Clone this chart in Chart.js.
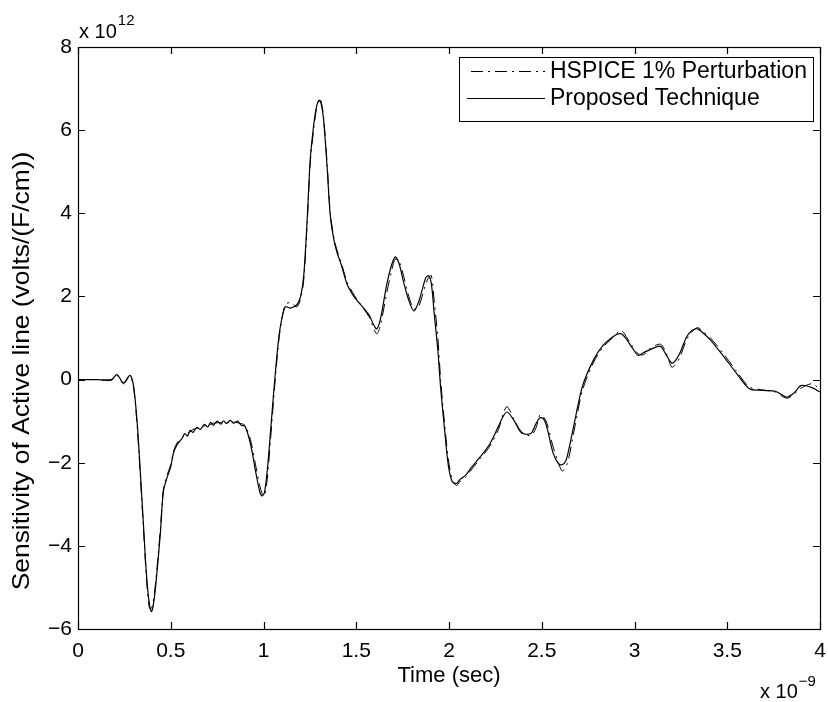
<!DOCTYPE html>
<html>
<head>
<meta charset="utf-8">
<title>Sensitivity of Active line</title>
<script src="https://cdn.jsdelivr.net/npm/chart.js@4.4.0/dist/chart.umd.min.js"></script>
<style>
  html, body { margin: 0; padding: 0; background: #fff; }
  #wrap { width: 828px; height: 702px; }
</style>
</head>
<body>
<div id="wrap"><canvas id="myChart" width="828" height="702"></canvas></div>
<script>
// time axis in units of 1e-9 s, values in units of 1e12 volts/(F/cm)
const timeNs = [
  0, 0.1, 0.18, 0.21, 0.245, 0.28, 0.3, 0.32, 0.337, 0.353,
  0.37, 0.385, 0.396, 0.405, 0.418, 0.444, 0.46, 0.48, 0.5, 0.515,
  0.535, 0.56, 0.575, 0.59, 0.605, 0.62, 0.64, 0.66, 0.68, 0.7,
  0.715, 0.73, 0.75, 0.77, 0.785, 0.8, 0.82, 0.84, 0.86, 0.88,
  0.9, 0.93, 0.957, 0.98, 0.993, 1.005, 1.02, 1.037, 1.055,
  1.075, 1.09, 1.117, 1.145, 1.18, 1.2, 1.217, 1.236, 1.252, 1.27,
  1.285, 1.3, 1.31, 1.323, 1.343, 1.36, 1.38, 1.397, 1.42, 1.45,
  1.48, 1.505, 1.54, 1.57, 1.59, 1.61, 1.63, 1.665, 1.69, 1.71,
  1.73, 1.755, 1.78, 1.81, 1.835, 1.855, 1.875, 1.89, 1.905, 1.92,
  1.94, 1.955, 1.975, 1.996, 2.017, 2.04, 2.06, 2.09, 2.115, 2.17,
  2.22, 2.267, 2.29, 2.313, 2.35, 2.39, 2.44, 2.47, 2.49, 2.51,
  2.528, 2.56, 2.59, 2.61, 2.63, 2.645, 2.68, 2.72, 2.78, 2.83,
  2.87, 2.9, 2.93, 2.96, 2.99, 3.02, 3.05, 3.084, 3.14, 3.17,
  3.2, 3.22, 3.246, 3.28, 3.31, 3.34, 3.37, 3.41, 3.48, 3.55,
  3.62, 3.69, 3.76, 3.82, 3.86, 3.9, 3.96, 4.0
];

const proposedValues = [
  0, 0, 0, 0.12, -0.08, 0.1, -0.17, -1.1, -2.3, -3.5,
  -4.75, -5.4, -5.58, -5.45, -5.0, -3.7, -2.7, -2.36, -2.1, -1.76,
  -1.56, -1.42, -1.3, -1.36, -1.22, -1.27, -1.15, -1.2, -1.08, -1.14,
  -1.03, -1.1, -1.0, -1.07, -0.99, -1.06, -0.98, -1.05, -1.0, -1.1,
  -1.12, -1.55, -2.2, -2.7, -2.8, -2.72, -2.2, -1.3, -0.3,
  0.7, 1.25, 1.75, 1.72, 1.8, 2.0, 2.5, 3.9, 5.3, 6.1,
  6.55, 6.72, 6.65, 6.3, 5.1, 3.95, 3.35, 3.05, 2.75, 2.3,
  2.05, 1.9, 1.72, 1.55, 1.35, 1.22, 1.45, 2.3, 2.75, 2.95,
  2.8, 2.35, 1.95, 1.65, 1.85, 2.15, 2.45, 2.5, 2.3, 1.6,
  0.7, -0.2, -1.15, -2.05, -2.45, -2.5, -2.4, -2.3, -2.15, -1.85,
  -1.55, -1.12, -0.9, -0.78, -0.98, -1.28, -1.3, -1.05, -0.92, -0.95,
  -1.15, -1.75, -2.02, -2.05, -1.95, -1.7, -0.95, -0.15, 0.48, 0.82,
  0.98, 1.08, 1.1, 0.95, 0.75, 0.58, 0.65, 0.72, 0.8, 0.6,
  0.4, 0.45, 0.65, 1.02, 1.18, 1.22, 1.12, 0.95, 0.56, 0.15,
  -0.22, -0.26, -0.28, -0.42, -0.32, -0.14, -0.2, -0.3
];

const hspiceValues = [
  0, 0, -0.02, 0.1, -0.1, 0.08, -0.2, -1.2, -2.4, -3.6,
  -4.85, -5.5, -5.5, -5.35, -4.9, -3.6, -2.65, -2.3, -2.05, -1.72,
  -1.52, -1.4, -1.35, -1.3, -1.25, -1.2, -1.17, -1.15, -1.12, -1.1,
  -1.08, -1.05, -1.04, -1.03, -1.03, -1.04, -1.03, -1.02, -1.04, -1.06,
  -1.1, -1.45, -2.05, -2.55, -2.75, -2.8, -2.4, -1.5, -0.45,
  0.6, 1.2, 1.8, 1.85, 1.75, 1.95, 2.4, 3.8, 5.2, 6.0,
  6.5, 6.75, 6.7, 6.35, 5.2, 4.0, 3.4, 3.1, 2.8, 2.35,
  2.1, 1.92, 1.7, 1.5, 1.28, 1.1, 1.3, 2.1, 2.6, 2.9,
  2.85, 2.5, 2.05, 1.7, 1.75, 2.0, 2.3, 2.45, 2.5, 1.9,
  1.0, 0.0, -1.0, -1.9, -2.4, -2.55, -2.45, -2.35, -2.2, -1.9,
  -1.6, -1.2, -0.85, -0.65, -0.95, -1.25, -1.35, -1.15, -0.85, -0.9,
  -1.05, -1.6, -2.0, -2.2, -2.1, -1.9, -1.1, -0.25, 0.42, 0.78,
  0.95, 1.1, 1.18, 1.0, 0.8, 0.62, 0.6, 0.75, 0.85, 0.65,
  0.3, 0.35, 0.55, 0.95, 1.15, 1.25, 1.15, 1.0, 0.62, 0.2,
  -0.18, -0.25, -0.3, -0.45, -0.35, -0.2, -0.1, -0.25
];

const seriesNames = ['HSPICE 1% Perturbation', 'Proposed Technique'];
const xTicks = [0, 0.5, 1, 1.5, 2, 2.5, 3, 3.5, 4];
const yTicks = [-6, -4, -2, 0, 2, 4, 6, 8];
const yTitle = 'Sensitivity of Active line (volts/(F/cm))';

const FONT = '"Liberation Sans", Arial, Helvetica, sans-serif';
const hspiceDash = [12, 5, 2, 5];

const toPoints = (vals) => vals.map((v, i) => ({ x: timeNs[i], y: v }));

// matlab style box, inward ticks, legend, y title and the exponent labels
const matlabFrame = {
  id: 'matlabFrame',
  afterDraw(chart) {
    const { ctx, chartArea: a, scales } = chart;
    const x = scales.x, y = scales.y;
    ctx.save();
    ctx.strokeStyle = '#000';
    ctx.lineWidth = 1.2;
    ctx.setLineDash([]);
    ctx.strokeRect(a.left + 0.5, a.top + 0.5, a.right - a.left, a.bottom - a.top);
    ctx.beginPath();
    xTicks.forEach((v) => {
      const px = Math.round(x.getPixelForValue(v)) + 0.5;
      ctx.moveTo(px, a.bottom);
      ctx.lineTo(px, a.bottom - 7);
      ctx.moveTo(px, a.top);
      ctx.lineTo(px, a.top + 7);
    });
    yTicks.forEach((v) => {
      const py = Math.round(y.getPixelForValue(v)) + 0.5;
      ctx.moveTo(a.left, py);
      ctx.lineTo(a.left + 7, py);
      ctx.moveTo(a.right, py);
      ctx.lineTo(a.right - 7, py);
    });
    ctx.stroke();

    ctx.fillStyle = '#000';

    // y axis title, rotated
    ctx.save();
    ctx.translate(22, 371);
    ctx.rotate(-Math.PI / 2);
    ctx.scale(1.1, 1);
    ctx.textAlign = 'center';
    ctx.textBaseline = 'middle';
    ctx.font = '24px ' + FONT;
    ctx.fillText(yTitle, 0, 0);
    ctx.restore();

    // exponents
    ctx.textBaseline = 'alphabetic';
    ctx.textAlign = 'left';
    ctx.font = '20px ' + FONT;
    ctx.fillText('x 10', a.left + 1, a.top - 9);
    let w = ctx.measureText('x 10').width;
    ctx.font = '15px ' + FONT;
    ctx.fillText('12', a.left + 1 + w + 1, a.top - 22);
    ctx.font = '20px ' + FONT;
    ctx.fillText('x 10', a.right - 60, 698);
    w = ctx.measureText('x 10').width;
    ctx.font = '15px ' + FONT;
    ctx.fillText('\u22129', a.right - 60 + w + 1, 686);

    // legend
    const lx = a.right - 361, ly = a.top + 10, lw = 354, lh = 64;
    ctx.fillStyle = '#fff';
    ctx.fillRect(lx, ly, lw, lh);
    ctx.lineWidth = 1;
    ctx.strokeRect(lx + 0.5, ly + 0.5, lw, lh);
    const rows = [
      { name: seriesNames[0], dash: hspiceDash, cy: ly + 14 },
      { name: seriesNames[1], dash: [], cy: ly + 41 }
    ];
    ctx.font = '23px ' + FONT;
    ctx.textBaseline = 'middle';
    ctx.fillStyle = '#000';
    rows.forEach((r) => {
      ctx.beginPath();
      ctx.setLineDash(r.dash);
      ctx.lineDashOffset = -4;
      ctx.moveTo(lx + 8, r.cy + 0.5);
      ctx.lineTo(lx + 86, r.cy + 0.5);
      ctx.stroke();
      ctx.fillText(r.name, lx + 91, r.cy + 1);
    });
    ctx.restore();
  }
};

const ctx = document.getElementById('myChart');
new Chart(ctx, {
  type: 'line',
  data: {
    datasets: [
      {
        label: seriesNames[0],
        data: toPoints(hspiceValues),
        borderColor: '#000',
        borderWidth: 1,
        borderDash: hspiceDash,
        pointRadius: 0,
        tension: 0.3,
        fill: false
      },
      {
        label: seriesNames[1],
        data: toPoints(proposedValues),
        borderColor: '#000',
        borderWidth: 1.2,
        pointRadius: 0,
        tension: 0.3,
        fill: false
      }
    ]
  },
  options: {
    responsive: false,
    animation: false,
    devicePixelRatio: 1,
    layout: { padding: { top: 47, right: 8, left: 0, bottom: 0 } },
    plugins: {
      legend: { display: false },
      tooltip: { enabled: false }
    },
    scales: {
      x: {
        type: 'linear',
        min: 0,
        max: 4,
        afterBuildTicks: (scale) => { scale.ticks = xTicks.map((v) => ({ value: v })); },
        afterFit: (scale) => {
          scale.height = 73;
          scale.paddingLeft = 0;
          scale.paddingRight = 0;
        },
        grid: { display: false, drawTicks: false },
        border: { display: true, color: '#000', width: 1 },
        ticks: {
          color: '#000',
          font: { family: FONT, size: 21 },
          padding: 10,
          maxRotation: 0,
          callback: (v) => String(v)
        },
        title: {
          display: true,
          text: 'Time (sec)',
          color: '#000',
          font: { family: FONT, size: 22 },
          padding: { top: 0, bottom: 13 }
        }
      },
      y: {
        type: 'linear',
        min: -6,
        max: 8,
        afterBuildTicks: (scale) => { scale.ticks = yTicks.map((v) => ({ value: v })); },
        afterFit: (scale) => { scale.width = 78; },
        grid: { display: false, drawTicks: false },
        border: { display: true, color: '#000', width: 1 },
        ticks: {
          color: '#000',
          font: { family: FONT, size: 21 },
          padding: 6,
          callback: (v) => String(v).replace('-', '\u2212')
        }
      }
    }
  },
  plugins: [matlabFrame]
});
</script>
</body>
</html>
